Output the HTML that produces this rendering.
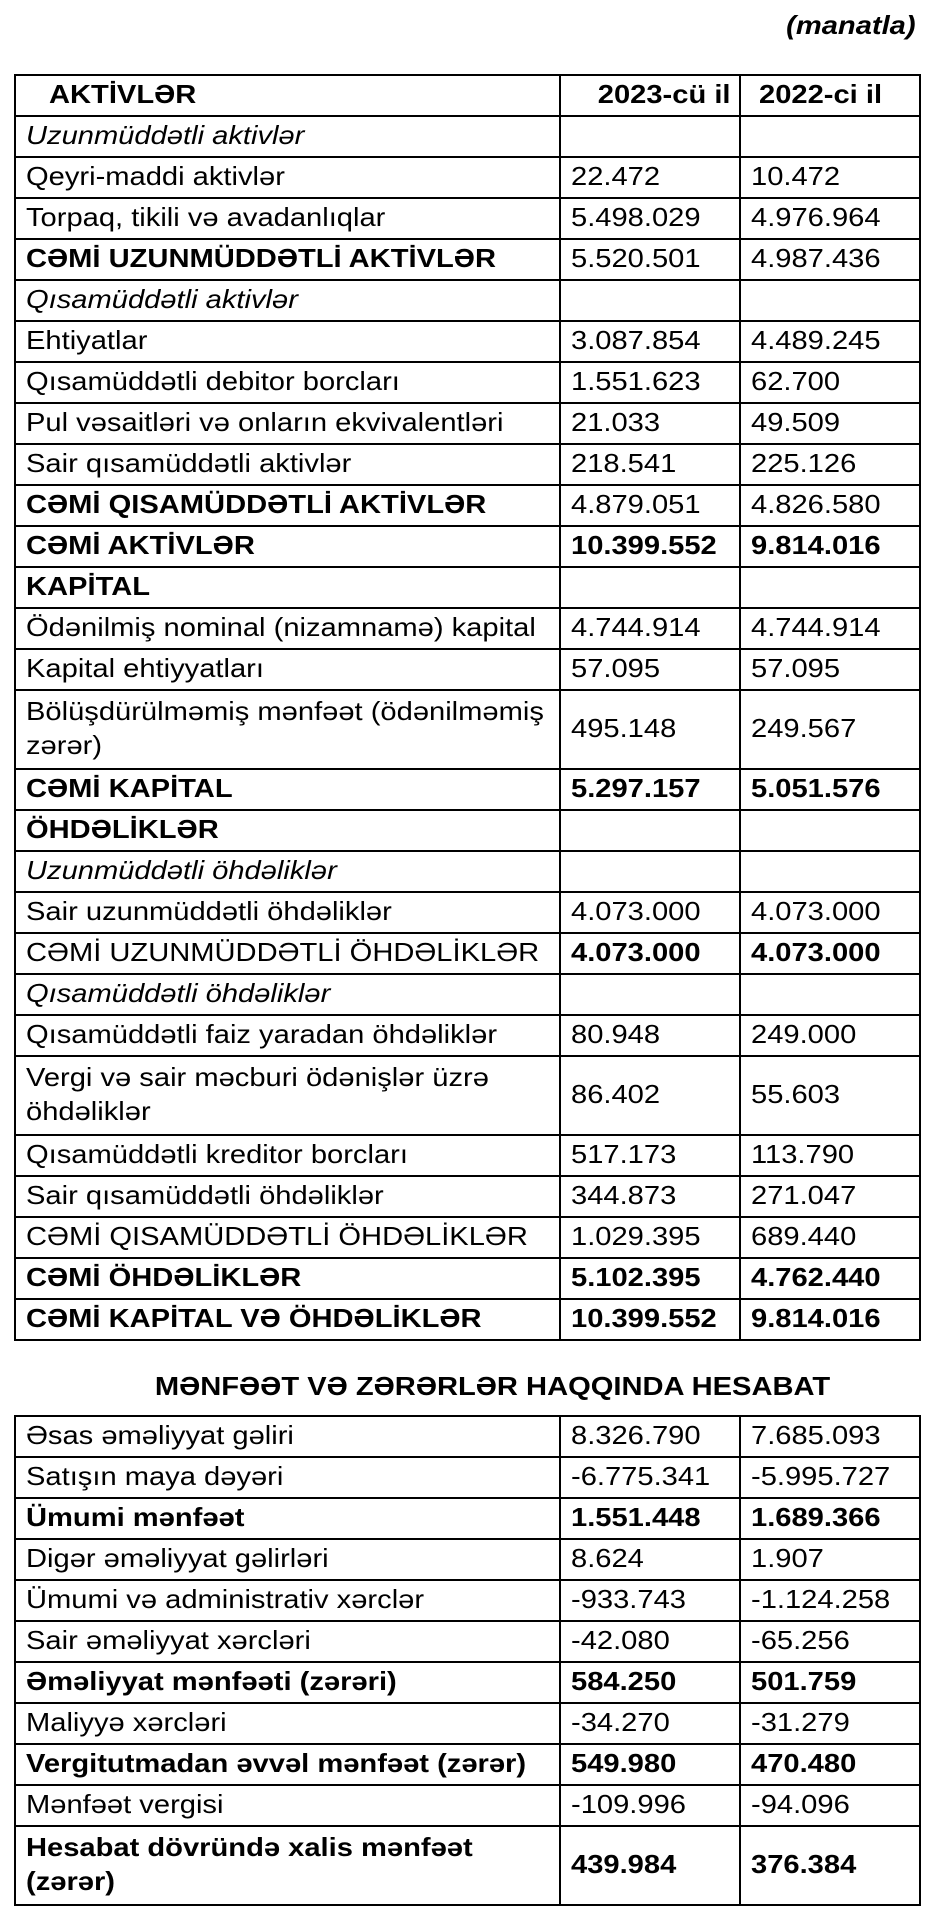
<!DOCTYPE html>
<html><head><meta charset="utf-8"><style>
body{margin:0;width:930px;height:1914px;background:#fff;position:relative;font-family:"Liberation Sans",Arial,sans-serif;color:#000;overflow:hidden}
table{position:absolute;left:14px;width:905px;border-collapse:collapse;table-layout:fixed;font-size:26px}
td{border:2px solid #000;height:35px;padding:0 0 4px 10px;line-height:28px;vertical-align:middle;white-space:nowrap;overflow:hidden}
td span{display:inline-block;transform:scaleX(1.12);transform-origin:left center}
tr.d td{height:73px;line-height:34px}
.b{font-weight:bold}.i{font-style:italic}
#t1{top:74px}#t2{top:1415px}
.man{position:absolute;right:14px;top:10px;font-size:26px;font-weight:bold;font-style:italic;transform:scaleX(1.12);transform-origin:right center}
.ttl{position:absolute;left:0;width:986px;text-align:center;top:1371px;font-size:26px;font-weight:bold}
.ttl span{display:inline-block;transform:scaleX(1.12)}
</style></head><body>
<div class="man">(manatla)</div>
<table id="t1">
<colgroup><col style="width:545px"><col style="width:180px"><col style="width:180px"></colgroup>
<tr class="b"><td style="padding-left:33px"><span>AKTİVLƏR</span></td><td style="text-align:right;padding-right:8px"><span style="transform-origin:right center">2023-cü il</span></td><td style="padding-left:18px"><span>2022-ci il</span></td></tr>
<tr><td class="i"><span>Uzunmüddətli aktivlər</span></td><td></td><td></td></tr>
<tr><td><span>Qeyri-maddi aktivlər</span></td><td><span>22.472</span></td><td><span>10.472</span></td></tr>
<tr><td><span>Torpaq, tikili və avadanlıqlar</span></td><td><span>5.498.029</span></td><td><span>4.976.964</span></td></tr>
<tr><td class="b"><span>CƏMİ UZUNMÜDDƏTLİ AKTİVLƏR</span></td><td><span>5.520.501</span></td><td><span>4.987.436</span></td></tr>
<tr><td class="i"><span>Qısamüddətli aktivlər</span></td><td></td><td></td></tr>
<tr><td><span>Ehtiyatlar</span></td><td><span>3.087.854</span></td><td><span>4.489.245</span></td></tr>
<tr><td><span>Qısamüddətli debitor borcları</span></td><td><span>1.551.623</span></td><td><span>62.700</span></td></tr>
<tr><td><span>Pul vəsaitləri və onların ekvivalentləri</span></td><td><span>21.033</span></td><td><span>49.509</span></td></tr>
<tr><td><span>Sair qısamüddətli aktivlər</span></td><td><span>218.541</span></td><td><span>225.126</span></td></tr>
<tr><td class="b"><span>CƏMİ QISAMÜDDƏTLİ AKTİVLƏR</span></td><td><span>4.879.051</span></td><td><span>4.826.580</span></td></tr>
<tr class="b"><td><span>CƏMİ AKTİVLƏR</span></td><td><span>10.399.552</span></td><td><span>9.814.016</span></td></tr>
<tr class="b"><td><span>KAPİTAL</span></td><td></td><td></td></tr>
<tr><td><span>Ödənilmiş nominal (nizamnamə) kapital</span></td><td><span>4.744.914</span></td><td><span>4.744.914</span></td></tr>
<tr><td><span>Kapital ehtiyyatları</span></td><td><span>57.095</span></td><td><span>57.095</span></td></tr>
<tr class="d"><td><span>Bölüşdürülməmiş mənfəət (ödənilməmiş<br>zərər)</span></td><td><span>495.148</span></td><td><span>249.567</span></td></tr>
<tr class="b"><td><span>CƏMİ KAPİTAL</span></td><td><span>5.297.157</span></td><td><span>5.051.576</span></td></tr>
<tr class="b"><td><span>ÖHDƏLİKLƏR</span></td><td></td><td></td></tr>
<tr><td class="i"><span>Uzunmüddətli öhdəliklər</span></td><td></td><td></td></tr>
<tr><td><span>Sair uzunmüddətli öhdəliklər</span></td><td><span>4.073.000</span></td><td><span>4.073.000</span></td></tr>
<tr><td><span>CƏMİ UZUNMÜDDƏTLİ ÖHDƏLİKLƏR</span></td><td class="b"><span>4.073.000</span></td><td class="b"><span>4.073.000</span></td></tr>
<tr><td class="i"><span>Qısamüddətli öhdəliklər</span></td><td></td><td></td></tr>
<tr><td><span>Qısamüddətli faiz yaradan öhdəliklər</span></td><td><span>80.948</span></td><td><span>249.000</span></td></tr>
<tr class="d"><td><span>Vergi və sair məcburi ödənişlər üzrə<br>öhdəliklər</span></td><td><span>86.402</span></td><td><span>55.603</span></td></tr>
<tr><td><span>Qısamüddətli kreditor borcları</span></td><td><span>517.173</span></td><td><span>113.790</span></td></tr>
<tr><td><span>Sair qısamüddətli öhdəliklər</span></td><td><span>344.873</span></td><td><span>271.047</span></td></tr>
<tr><td><span>CƏMİ QISAMÜDDƏTLİ ÖHDƏLİKLƏR</span></td><td><span>1.029.395</span></td><td><span>689.440</span></td></tr>
<tr class="b"><td><span>CƏMİ ÖHDƏLİKLƏR</span></td><td><span>5.102.395</span></td><td><span>4.762.440</span></td></tr>
<tr class="b"><td><span>CƏMİ KAPİTAL VƏ ÖHDƏLİKLƏR</span></td><td><span>10.399.552</span></td><td><span>9.814.016</span></td></tr>
</table>
<div class="ttl"><span>MƏNFƏƏT VƏ ZƏRƏRLƏR HAQQINDA HESABAT</span></div>
<table id="t2">
<colgroup><col style="width:545px"><col style="width:180px"><col style="width:180px"></colgroup>
<tr><td><span>Əsas əməliyyat gəliri</span></td><td><span>8.326.790</span></td><td><span>7.685.093</span></td></tr>
<tr><td><span>Satışın maya dəyəri</span></td><td><span>-6.775.341</span></td><td><span>-5.995.727</span></td></tr>
<tr class="b"><td><span>Ümumi mənfəət</span></td><td><span>1.551.448</span></td><td><span>1.689.366</span></td></tr>
<tr><td><span>Digər əməliyyat gəlirləri</span></td><td><span>8.624</span></td><td><span>1.907</span></td></tr>
<tr><td><span>Ümumi və administrativ xərclər</span></td><td><span>-933.743</span></td><td><span>-1.124.258</span></td></tr>
<tr><td><span>Sair əməliyyat xərcləri</span></td><td><span>-42.080</span></td><td><span>-65.256</span></td></tr>
<tr class="b"><td><span>Əməliyyat mənfəəti (zərəri)</span></td><td><span>584.250</span></td><td><span>501.759</span></td></tr>
<tr><td><span>Maliyyə xərcləri</span></td><td><span>-34.270</span></td><td><span>-31.279</span></td></tr>
<tr class="b"><td><span>Vergitutmadan əvvəl mənfəət (zərər)</span></td><td><span>549.980</span></td><td><span>470.480</span></td></tr>
<tr><td><span>Mənfəət vergisi</span></td><td><span>-109.996</span></td><td><span>-94.096</span></td></tr>
<tr class="b d"><td><span>Hesabat dövründə xalis mənfəət<br>(zərər)</span></td><td><span>439.984</span></td><td><span>376.384</span></td></tr>
</table>
</body></html>
